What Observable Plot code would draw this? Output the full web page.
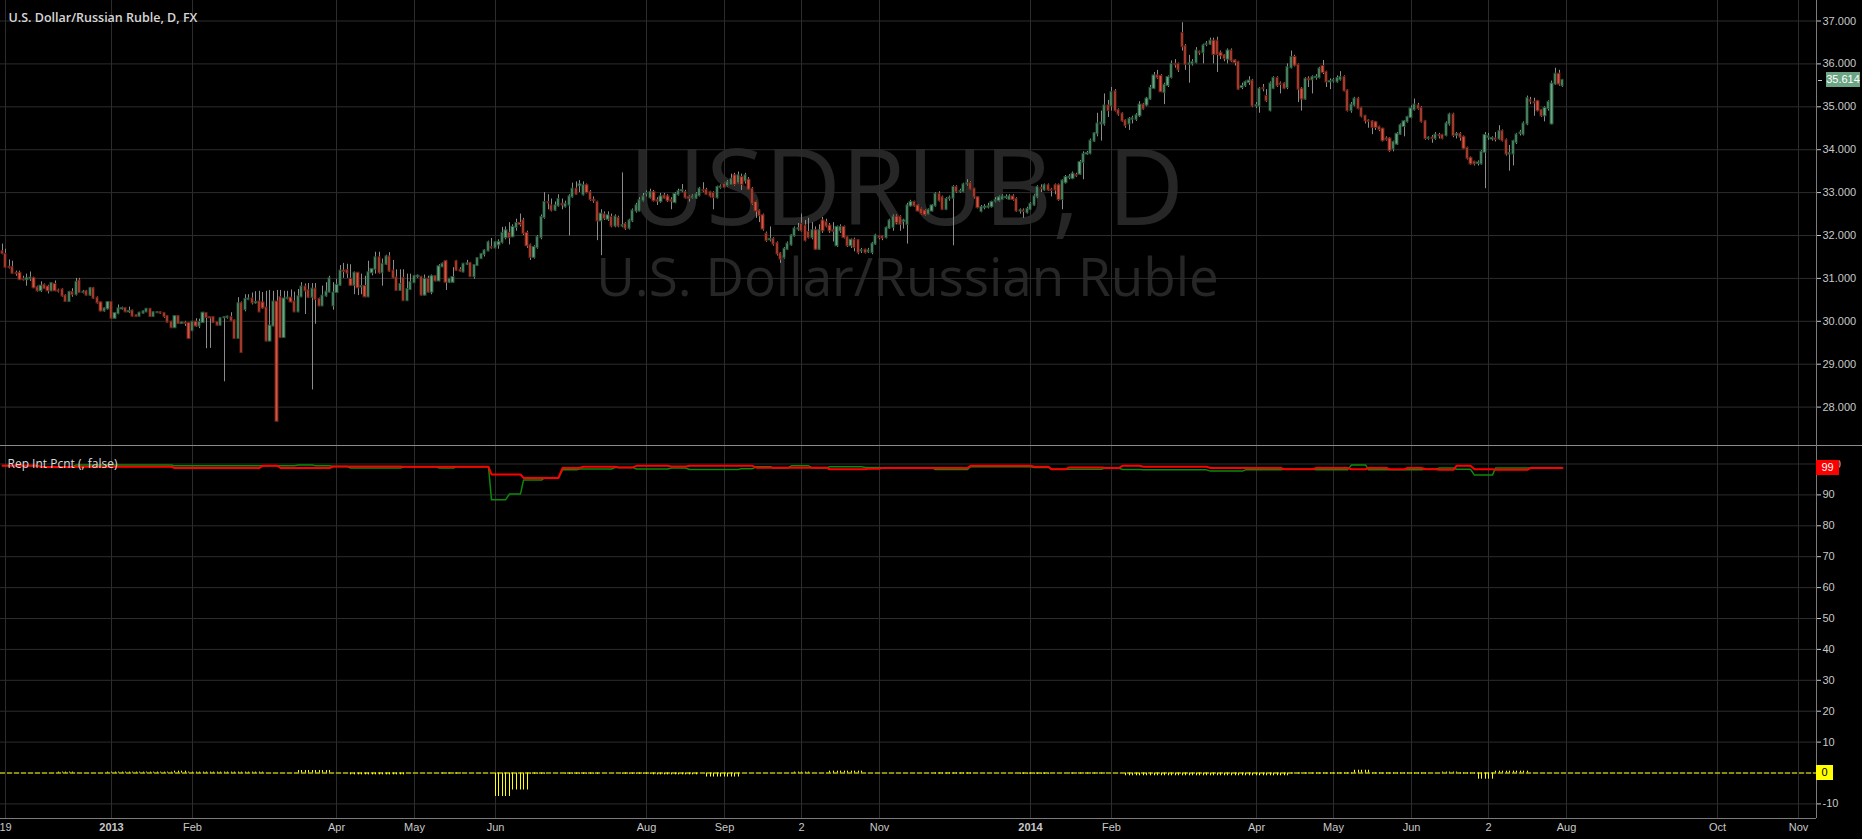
<!DOCTYPE html>
<html><head><meta charset="utf-8">
<script src="https://cdn.jsdelivr.net/npm/d3@7"></script>
<script src="https://cdn.jsdelivr.net/npm/@observablehq/plot@0.6"></script>
<style>
html,body{margin:0;padding:0;background:#000;overflow:hidden}
#wrap{position:relative;width:1862px;height:839px;background:#000;overflow:hidden}
.pane{position:absolute;left:0}
.line{position:absolute;background:#7b7b7b}
.badge{position:absolute;font:11px "Liberation Sans",Arial,sans-serif;height:15px;line-height:15px;text-align:center}
</style>
</head><body><div id="wrap"></div>
<script>
// ---------- data ----------
const titleText = "U.S. Dollar/Russian Ruble, D, FX";
const watermarkMain = "USDRUB, D";
const watermarkSub = "U.S. Dollar/Russian Ruble";
const paneLabel = "Rep Int Pcnt (, false)";
const lastPrice = 35.614;

const tickBars = [1,31,54,95,117,140,183,205,227,249,292,315,356,378,400,422,444,487,510];
const tickLabels = ["19","2013","Feb","Apr","May","Jun","Aug","Sep","2","Nov","2014","Feb","Apr","May","Jun","2","Aug","Oct","Nov"];
const yearLabels = ["2013","2014"];
const priceTicks = [28,29,30,31,32,33,34,35,36,37];
const lowTicks = [-10,0,10,20,30,40,50,60,70,80,90,100];

const open = [
31.62,31.56,31.26,31.25,31.12,31.12,30.98,30.97,30.99,31.00,
30.78,30.71,30.84,30.80,30.71,30.86,30.71,30.73,30.59,30.46,
30.67,30.62,30.94,30.67,30.69,30.61,30.76,30.54,30.43,30.24,
30.29,30.44,30.07,30.18,30.29,30.30,30.22,30.24,30.13,30.12,
30.19,30.22,30.28,30.11,30.20,30.20,30.18,30.11,29.98,29.85,
30.11,29.95,29.96,29.95,29.78,29.98,29.89,29.97,30.18,30.09,
30.09,29.97,29.91,30.08,30.09,30.09,30.01,29.60,30.41,30.27,
30.51,30.52,30.43,30.45,30.43,30.31,29.54,29.89,30.45,30.55,
29.62,30.53,30.54,30.45,30.22,30.57,30.80,30.71,30.56,30.75,
30.51,30.36,30.59,30.68,30.36,30.67,30.84,31.17,31.18,30.98,
30.84,31.12,30.80,30.81,30.57,31.13,31.21,31.48,31.13,31.33,
31.50,31.17,31.01,30.72,31.00,30.48,30.74,30.90,31.04,31.02,
30.61,30.98,30.68,31.04,30.94,31.27,31.39,30.91,30.91,31.39,
31.19,31.15,31.33,31.35,31.04,31.30,31.46,31.56,31.64,31.72,
31.71,31.78,31.84,31.95,32.05,31.97,32.19,32.28,32.34,32.05,
31.76,31.49,31.72,31.95,32.42,32.77,32.69,32.59,32.69,32.73,
32.67,32.71,32.90,33.08,33.16,32.95,33.16,33.00,32.82,32.77,
32.34,32.48,32.38,32.42,32.22,32.40,32.22,32.26,32.17,32.34,
32.57,32.57,32.81,32.97,32.88,33.00,32.81,32.79,32.92,32.90,
32.81,32.77,32.95,33.04,33.00,32.88,32.88,32.87,32.93,33.05,
33.05,33.00,32.98,32.88,33.12,33.19,33.16,33.19,33.39,33.23,
33.35,33.27,33.29,33.08,32.77,32.57,32.46,32.03,31.90,31.91,
31.81,31.57,31.49,31.68,31.78,31.99,32.15,32.26,32.22,32.07,
31.95,32.11,31.68,32.34,32.30,32.22,32.11,31.76,32.11,32.19,
31.95,31.76,31.89,31.88,31.64,31.66,31.62,31.60,31.80,31.97,
31.97,31.95,32.17,32.19,32.43,32.42,32.33,32.26,32.69,32.77,
32.69,32.61,32.57,32.50,32.57,32.69,32.96,32.88,32.61,32.86,
32.87,33.12,33.02,33.02,33.20,33.21,33.08,32.88,32.56,32.65,
32.66,32.67,32.80,32.81,32.84,32.88,32.84,32.90,32.84,32.57,
32.57,32.53,32.61,32.71,32.90,33.10,33.06,33.16,33.06,33.16,
33.16,32.84,33.23,33.35,33.33,33.40,33.43,33.70,33.90,33.91,
34.20,34.37,34.60,34.60,35.02,35.02,35.35,34.91,34.83,34.67,
34.60,34.71,34.71,34.79,35.04,35.04,35.18,35.43,35.72,35.71,
35.33,35.50,35.68,35.99,35.99,36.71,36.40,35.99,36.00,36.03,
36.27,36.26,36.45,36.46,36.53,36.53,36.25,36.19,36.11,36.30,
36.07,36.03,35.45,35.49,35.57,35.60,35.02,35.02,35.43,35.24,
34.91,35.43,35.66,35.53,35.53,35.45,35.91,36.15,35.97,35.41,
35.18,35.64,35.63,35.68,35.68,35.94,35.80,35.58,35.60,35.58,
35.63,35.68,35.37,34.91,35.04,35.18,34.96,34.78,34.67,34.65,
34.63,34.52,34.48,34.25,34.25,34.02,34.13,34.36,34.54,34.65,
34.75,34.93,35.02,34.96,34.65,34.26,34.27,34.26,34.33,34.33,
34.33,34.60,34.81,34.34,34.36,34.29,34.03,33.80,33.71,33.68,
33.67,33.94,34.29,34.25,34.25,34.25,34.42,34.21,33.90,33.90,
34.17,34.38,34.36,34.60,35.14,35.10,35.12,34.91,34.79,34.96,
34.60,35.53,35.76,35.49];

const high = [
31.80,31.68,31.43,31.40,31.17,31.17,31.05,31.10,31.15,31.03,
30.82,30.92,30.87,30.84,30.90,30.94,30.75,30.76,30.62,30.70,
30.76,31.00,31.00,30.72,30.72,30.79,30.79,30.57,30.45,30.31,
30.46,30.46,30.20,30.38,30.33,30.31,30.33,30.26,30.15,30.21,
30.24,30.30,30.30,30.22,30.22,30.22,30.20,30.13,30.00,30.13,
30.13,29.98,30.00,29.97,30.00,30.06,30.05,30.21,30.20,30.10,
30.11,29.99,30.08,30.11,30.12,30.20,30.03,30.55,30.45,30.62,
30.62,30.66,30.69,30.70,30.67,30.70,30.72,30.70,30.72,30.72,
30.70,30.70,30.73,30.68,30.74,30.90,30.87,30.88,30.88,30.88,
30.54,30.82,30.90,31.05,30.90,30.98,31.30,31.35,31.33,31.32,
31.15,31.14,31.10,31.05,31.40,31.22,31.61,31.61,31.45,31.54,
31.60,31.42,31.20,31.20,31.20,31.10,31.10,31.07,31.08,31.05,
31.08,31.05,31.08,31.06,31.32,31.36,31.42,31.00,31.25,31.42,
31.25,31.35,31.42,31.37,31.32,31.48,31.58,31.67,31.87,31.93,
31.85,31.90,32.19,32.20,32.30,32.25,32.38,32.50,32.40,32.10,
31.80,31.76,32.00,32.48,33.00,32.95,32.85,32.78,32.95,32.85,
32.80,32.95,33.22,33.25,33.28,33.25,33.20,33.05,32.90,32.80,
32.60,32.55,32.55,32.50,32.48,32.45,33.46,32.30,32.38,32.62,
32.75,32.88,32.98,33.04,33.08,33.05,32.88,32.98,32.98,32.95,
32.88,33.00,33.08,33.19,33.05,32.92,32.95,33.00,33.12,33.23,
33.10,33.03,33.02,33.15,33.18,33.22,33.28,33.43,33.45,33.48,
33.43,33.45,33.35,33.12,32.80,32.60,32.50,32.08,32.20,31.95,
31.85,31.60,31.72,31.85,32.02,32.20,32.28,32.50,32.35,32.40,
32.30,32.20,32.25,32.42,32.38,32.28,32.30,32.22,32.25,32.22,
31.98,31.92,31.94,31.90,31.70,31.68,31.70,31.84,32.03,32.00,
32.00,32.20,32.38,32.48,32.48,32.46,32.38,32.75,32.82,32.80,
32.72,32.64,32.60,32.62,32.72,33.00,33.02,32.92,32.88,32.92,
33.16,33.16,33.08,33.22,33.30,33.25,33.10,32.90,32.70,32.72,
32.75,32.80,32.88,32.92,32.95,32.95,32.95,32.95,32.88,32.62,
32.62,32.66,32.77,32.95,33.16,33.18,33.20,33.20,33.10,33.20,
33.20,33.30,33.40,33.42,33.48,33.45,33.75,33.95,33.96,34.25,
34.40,34.85,34.90,35.30,35.15,35.45,35.40,34.95,34.86,34.70,
34.75,34.78,34.84,35.12,35.08,35.22,35.50,35.80,35.85,35.75,
35.55,35.72,36.07,36.10,36.02,36.96,36.45,36.20,36.10,36.38,
36.30,36.46,36.52,36.60,36.60,36.62,36.30,36.22,36.35,36.35,
36.10,36.06,35.55,35.60,35.70,35.64,35.10,35.45,35.52,35.40,
35.58,35.70,35.70,35.58,35.56,36.00,36.30,36.20,36.00,35.45,
35.68,35.70,35.72,35.75,35.92,36.08,35.83,35.65,35.66,35.72,
35.82,35.72,35.40,35.10,35.22,35.22,34.99,34.80,34.70,34.68,
34.66,34.55,34.50,34.30,34.28,34.20,34.40,34.60,34.68,34.78,
35.02,35.18,35.08,35.00,34.68,34.30,34.33,34.40,34.38,34.36,
34.65,34.85,34.85,34.40,34.40,34.32,34.06,33.83,33.73,33.74,
33.98,34.40,34.38,34.30,34.40,34.56,34.46,34.25,34.10,34.22,
34.38,34.45,34.65,35.25,35.22,35.20,35.15,34.94,35.00,35.14,
35.60,35.90,35.85,35.64];

const low = [
31.55,31.24,31.22,31.10,31.05,30.95,30.94,30.82,30.93,30.76,
30.68,30.67,30.74,30.64,30.69,30.69,30.66,30.56,30.44,30.44,
30.56,30.59,30.65,30.64,30.59,30.58,30.51,30.40,30.22,30.21,
30.26,30.05,30.05,30.15,30.26,30.20,30.18,30.10,30.09,30.10,
30.17,30.20,30.09,30.09,30.18,30.16,30.07,29.96,29.83,29.83,
29.93,29.93,29.88,29.58,29.76,29.86,29.83,29.95,29.36,29.37,
29.95,29.89,29.89,28.59,30.05,29.99,29.58,29.58,29.25,30.22,
30.48,30.38,30.40,30.20,30.28,29.52,29.52,29.87,27.65,29.60,
29.60,30.50,30.43,30.20,30.20,30.55,30.16,30.53,28.40,29.93,
30.34,30.34,30.56,30.66,30.26,30.65,30.82,31.00,31.00,30.82,
30.62,30.60,30.62,30.55,30.55,31.06,31.10,31.10,30.82,31.30,
31.14,30.99,30.70,30.70,30.46,30.46,30.72,30.88,31.00,30.59,
30.59,30.66,30.62,30.92,30.92,31.25,30.72,30.88,30.89,31.17,
31.15,31.13,31.30,31.02,30.98,31.28,31.44,31.50,31.62,31.68,
31.69,31.68,31.80,31.90,31.78,31.95,32.10,32.20,32.00,31.70,
31.42,31.45,31.68,31.90,32.38,32.60,32.55,32.56,32.66,32.60,
32.64,31.99,32.87,32.94,33.00,32.92,32.97,32.80,32.75,31.88,
31.53,32.35,32.33,32.18,32.18,32.18,32.18,32.12,32.13,32.30,
32.52,32.55,32.78,32.90,32.85,32.78,32.70,32.75,32.85,32.77,
32.60,32.74,32.92,33.00,32.85,32.78,32.85,32.84,32.90,33.00,
32.94,32.88,32.60,32.85,33.08,33.10,33.13,33.17,33.15,33.20,
33.05,33.20,33.05,32.70,32.40,32.30,32.10,31.84,31.85,31.75,
31.52,31.35,31.45,31.65,31.75,31.96,32.10,32.08,31.85,31.92,
31.90,31.65,31.65,32.05,32.18,32.05,31.85,31.72,32.05,31.92,
31.72,31.70,31.62,31.55,31.58,31.57,31.58,31.55,31.77,31.90,
31.88,31.92,32.14,32.10,32.25,32.10,32.15,31.80,32.66,32.66,
32.55,32.48,32.45,32.48,32.55,32.66,32.78,32.58,32.58,32.80,
31.76,32.98,32.98,33.00,33.15,33.05,32.85,32.62,32.53,32.60,
32.62,32.64,32.76,32.78,32.82,32.84,32.82,32.80,32.54,32.50,
32.40,32.50,32.58,32.68,32.86,33.00,33.03,33.03,32.90,32.95,
32.80,32.60,33.20,33.30,33.30,33.35,33.40,33.30,33.87,33.88,
34.17,34.30,34.20,34.55,34.75,34.90,34.88,34.78,34.64,34.50,
34.45,34.60,34.66,34.75,34.92,35.00,35.15,35.40,35.64,35.33,
35.05,35.45,35.65,35.90,35.80,36.30,35.85,35.55,35.95,36.00,
36.20,36.00,36.40,36.43,36.00,35.80,36.10,36.05,36.00,36.03,
35.95,35.38,35.40,35.45,35.50,34.98,34.96,34.85,35.35,35.10,
34.88,35.40,35.45,35.30,35.40,35.40,35.88,35.93,35.10,34.90,
35.15,35.45,35.30,35.62,35.65,35.75,35.45,35.40,35.55,35.55,
35.60,35.35,34.88,34.85,35.00,34.93,34.74,34.60,34.50,34.35,
34.45,34.42,34.18,34.20,33.94,33.95,34.10,34.33,34.30,34.62,
34.72,34.90,34.92,34.62,34.22,34.22,34.15,34.22,34.25,34.23,
34.30,34.55,34.28,34.25,34.20,34.00,33.76,33.64,33.62,33.62,
33.64,33.09,34.22,34.20,34.18,34.22,34.18,33.85,33.50,33.62,
34.12,34.32,34.32,34.56,35.05,34.78,34.88,34.75,34.65,34.90,
34.58,35.50,35.48,35.45];

const close = [
31.58,31.26,31.25,31.12,31.11,30.97,30.97,30.99,31.01,30.78,
30.71,30.82,30.76,30.71,30.88,30.71,30.70,30.59,30.46,30.67,
30.62,30.91,30.67,30.68,30.61,30.76,30.54,30.43,30.24,30.29,
30.44,30.07,30.18,30.29,30.30,30.22,30.23,30.12,30.11,30.19,
30.22,30.28,30.11,30.20,30.20,30.19,30.11,29.98,29.85,30.11,
29.95,29.96,29.95,29.60,29.98,29.89,29.97,30.19,30.09,30.08,
29.97,29.91,30.06,30.09,30.10,30.01,29.60,30.41,29.27,30.51,
30.52,30.43,30.44,30.22,30.31,29.54,29.89,30.45,27.67,29.62,
30.52,30.54,30.45,30.22,30.57,30.80,30.71,30.56,30.75,30.51,
30.36,30.59,30.68,30.99,30.66,30.84,31.17,31.16,31.12,30.84,
31.12,30.78,30.81,30.57,31.13,31.21,31.48,31.13,31.33,31.50,
31.17,31.01,30.72,30.86,30.48,30.74,30.90,31.04,31.05,30.61,
30.98,30.68,31.04,30.94,31.27,31.33,30.91,30.98,31.02,31.19,
31.17,31.33,31.34,31.04,31.30,31.46,31.56,31.64,31.83,31.71,
31.83,31.84,32.05,32.11,31.95,32.19,32.28,32.26,32.05,31.76,
31.49,31.72,31.95,32.42,32.77,32.76,32.59,32.69,32.84,32.71,
32.73,32.90,33.08,32.96,33.18,33.16,33.00,32.84,32.81,32.34,
32.50,32.40,32.46,32.22,32.43,32.22,32.23,32.17,32.34,32.57,
32.69,32.81,32.90,32.98,33.00,32.81,32.80,32.90,32.87,32.81,
32.80,32.96,33.02,33.05,32.88,32.87,32.90,32.95,33.08,33.04,
32.96,32.92,32.88,33.12,33.13,33.12,33.23,33.31,33.19,33.39,
33.19,33.39,33.08,32.74,32.57,32.46,32.15,31.88,31.91,31.80,
31.57,31.45,31.68,31.80,31.99,32.15,32.16,32.11,31.88,31.95,
32.11,31.68,32.11,32.11,32.22,32.11,32.10,32.19,32.19,31.95,
31.76,31.89,31.72,31.60,31.65,31.60,31.64,31.80,31.99,31.95,
31.94,32.17,32.34,32.43,32.30,32.26,32.34,32.69,32.77,32.69,
32.57,32.51,32.48,32.59,32.69,32.96,32.81,32.61,32.84,32.87,
33.12,33.02,33.03,33.18,33.21,33.08,32.90,32.65,32.65,32.66,
32.67,32.77,32.81,32.88,32.90,32.89,32.90,32.84,32.57,32.58,
32.56,32.61,32.73,32.90,33.12,33.09,33.16,33.06,33.05,33.06,
32.84,33.27,33.35,33.36,33.43,33.39,33.70,33.89,33.91,34.20,
34.37,34.60,34.62,35.02,34.91,35.33,34.91,34.83,34.67,34.56,
34.71,34.72,34.79,35.04,34.95,35.18,35.43,35.72,35.68,35.35,
35.50,35.68,35.99,35.98,35.86,36.40,35.99,36.00,36.03,36.30,
36.26,36.42,36.46,36.53,36.22,36.22,36.19,36.12,36.30,36.07,
36.03,35.41,35.47,35.57,35.60,35.02,35.03,35.41,35.42,35.14,
35.53,35.66,35.49,35.52,35.43,35.91,36.15,35.97,35.41,35.18,
35.64,35.63,35.68,35.69,35.88,35.80,35.58,35.59,35.61,35.66,
35.68,35.37,34.91,35.04,35.18,34.96,34.78,34.67,34.66,34.52,
34.52,34.47,34.21,34.24,33.98,34.17,34.36,34.56,34.65,34.75,
34.95,35.04,34.96,34.65,34.26,34.27,34.26,34.34,34.32,34.26,
34.60,34.81,34.33,34.35,34.29,34.03,33.80,33.67,33.67,33.69,
33.94,34.33,34.30,34.26,34.24,34.42,34.21,33.90,33.91,34.19,
34.34,34.39,34.60,35.19,35.13,35.09,34.91,34.79,34.96,35.10,
35.53,35.76,35.53,35.614];

// Rep Int Pcnt: green and red step lines (bar ranges and level)
const greenStart = [0,11,21,49,84,89,94,99,114,124,129,139,144,148,154,159,164,174,180,190,195,210,214,219,224,230,235,245,250,265,275,293,298,313,318,324,343,353,364,373,383,388,404,408,413,418,424];
const greenEnd   = [10,20,48,83,88,93,98,113,123,128,138,143,147,153,158,163,173,179,189,194,209,213,218,223,229,234,244,249,264,274,292,297,312,317,323,342,352,363,372,382,387,403,407,412,417,423,443];
const greenVal   = [99.5,99.1,99.7,99.4,99.7,99.4,99.2,98.7,99.1,98.7,99.1,88.4,90.3,94.8,95.5,98.1,98.4,98.9,98.4,98.7,98.2,98.5,99.1,98.7,99.4,98.7,99.1,98.9,98.7,98.2,99.1,98.9,98.3,98.7,98.2,98.1,97.7,98.1,98.3,98.1,99.7,98.1,98.3,98.7,98.3,96.4,98.7];
const redStart = [0,11,21,49,74,79,94,114,139,148,159,165,175,180,190,195,214,235,246,250,275,293,298,303,313,318,324,343,364,373,383,388,394,399,404,408,413,418,424,434];
const redEnd   = [10,20,48,73,78,93,113,138,147,158,164,174,179,189,194,213,234,245,249,274,292,297,302,312,317,323,342,363,372,382,387,393,398,403,407,412,417,423,433,443];
const redVal   = [99.4,99.0,99.1,98.7,99.4,98.7,99.2,99.1,96.6,95.5,98.7,99.1,98.9,99.4,99.2,99.4,98.8,98.3,98.5,98.7,99.4,99.1,98.3,98.9,98.7,99.4,99.1,98.7,98.3,98.7,98.3,98.7,98.3,98.7,98.3,98.1,99.4,98.3,98.1,98.7];

// yellow histogram, one value per bar
const yellow = [
0,0,0,0,0,0,0,0,0,0,0,0,0,0,0,0,0.3,0.3,0.3,0.3,
0.3,0,0,0,0,0,0,0,0,0,0.3,0.3,0.3,0.3,0.3,0.3,0.3,0.3,0.3,0.3,
0.3,0.3,0.3,0.3,0.3,0.3,0.3,0.3,0.3,0.6,0.6,0.6,0.6,0.3,0.3,0.3,0.3,0.3,0.3,0.3,
0.3,0.3,0.3,0.3,0.3,0.3,0.3,0.3,0.3,0.3,0.3,0.3,0.3,0.3,0.3,0,0,0,0,0,
0,0,0,0,0.8,0.8,0.8,0.8,0.8,0.8,0.8,0.8,0.8,0.8,0,0,0,0,0,-0.6,
-0.6,-0.6,-0.6,-0.6,-0.6,-0.6,-0.6,-0.6,-0.6,-0.6,-0.6,-0.6,-0.6,-0.6,-0.6,0,0,0,0,0,
0,0,0,0,0,-0.3,-0.3,-0.3,-0.3,-0.3,-0.3,0,0,0,0,0,0,0,0,0,
-7.6,-7.6,-7.6,-7.6,-7.6,-5.5,-5.5,-5.5,-5.5,-5.5,-0.4,-0.4,-0.4,-0.4,-0.4,0,0,0,0,0,
-0.4,-0.4,-0.4,-0.4,-0.4,-0.4,-0.4,-0.4,-0.4,-0.4,0,0,0,0,0,0,-0.4,-0.4,-0.4,-0.4,
-0.4,-0.4,-0.4,-0.4,-0.4,-0.6,-0.6,-0.6,-0.6,-0.6,-0.6,-0.6,-0.6,-0.6,-0.6,-0.6,-0.6,-0.6,0,0,
-1.3,-1.3,-1.3,-1.3,-1.3,-1.3,-1.3,-1.3,-1.3,-1.3,0,0,0,0,0,0,0,0,0,0,
0,0,0,0,0,0.3,0.3,0.3,0.3,0.3,0,0,0,0,0,0.6,0.6,0.6,0.6,0.6,
0.6,0.6,0.6,0.6,0.6,0,0,0,0,0,0,0,0,0,0,0,0,0,0,0,
0,0,0,0,0,-0.3,-0.3,-0.3,-0.3,-0.3,-0.3,-0.3,-0.3,-0.3,-0.3,-0.3,0,0,0,0,
0,0,0,0,0,0,0,0,0,-0.4,-0.4,-0.4,-0.4,-0.4,-0.4,-0.4,-0.4,-0.4,0,0,
0,0,0,-0.3,-0.3,-0.3,-0.3,-0.3,-0.3,-0.3,-0.3,-0.3,-0.3,-0.3,0,0,0,0,0,-0.9,
-0.9,-0.9,-0.9,-0.9,-0.9,-0.9,-0.9,-0.9,-0.9,-0.9,-0.9,-0.9,-0.9,-0.9,-0.9,-0.9,-0.9,-0.9,-0.9,-0.9,
-0.9,-0.9,-0.9,-0.9,-0.9,-0.9,-0.9,-0.9,-0.9,-0.9,-0.9,-0.9,-0.9,-0.9,-0.9,-0.9,-0.9,-0.9,-0.9,-0.9,
-0.9,-0.9,-0.9,-0.9,-0.9,-0.9,-0.3,-0.3,-0.3,-0.3,-0.3,-0.3,-0.3,-0.3,-0.3,-0.3,-0.3,-0.3,-0.3,-0.3,
-0.3,-0.3,-0.3,-0.3,0.9,0.9,0.9,0.9,0.9,-0.3,-0.3,-0.3,-0.3,-0.3,-0.3,-0.3,-0.3,-0.3,-0.3,-0.3,
-0.3,-0.3,-0.3,-0.3,-0.3,0,0,0,0,0.3,0.3,0.3,0.3,0.3,-0.3,-0.3,-0.3,-0.3,-0.3,-2.0,
-2.0,-2.0,-2.0,-2.0,0.6,0.6,0.6,0.6,0.6,0.6,0.6,0.6,0.6,0.6,0,0,0,0,0,0,
0,0,0,0];

// ---------- layout ----------
const W = 1862, MR = 46, TOP_H = 445, LOW_H = 393;
const xDomain = [-0.51, 515.1];
const GRID = "#2c2c2c";
const AXIS_TXT = "#c8c8c8";
const baseStyle = {background: "transparent", color: AXIS_TXT, fontSize: "11px",
  fontFamily: "'Liberation Sans', Arial, sans-serif", overflow: "visible"};

const candles = close.map((c, i) => ({i, o: open[i], h: high[i], l: low[i], c}));
const isUp = d => d.c >= d.o;

const topPlot = Plot.plot({
  width: W, height: TOP_H, marginTop: 0, marginBottom: 0, marginLeft: 0, marginRight: MR,
  style: baseStyle,
  x: {domain: xDomain, axis: null, round: true},
  y: {domain: [27.105, 37.478], axis: "right", ticks: priceTicks, tickFormat: d => d.toFixed(3),
      tickSize: 4, tickPadding: 2, label: null},
  marks: [
    Plot.text([watermarkMain], {frameAnchor: "top-left", dx: 906, dy: 224, text: d => d,
      textAnchor: "middle", lineAnchor: "bottom", fontSize: 106, fontFamily: "Open Sans", fill: "#262626"}),
    Plot.text([watermarkSub], {frameAnchor: "top-left", dx: 907, dy: 295, text: d => d,
      textAnchor: "middle", lineAnchor: "bottom", fontSize: 53, fontFamily: "Open Sans", fill: "#262626"}),
    Plot.ruleX(tickBars, {x: d => d, stroke: GRID}),
    Plot.ruleY(priceTicks, {y: d => d, stroke: GRID}),
    Plot.ruleX(candles, {x: "i", y1: "l", y2: "h", stroke: "#8c8c8c"}),
    Plot.rect(candles, {filter: isUp, x1: d => d.i - 0.32, x2: d => d.i + 0.32, y1: "o", y2: "c",
      insetTop: -0.5, insetBottom: -0.5, fill: "#6ba583", stroke: "#225437", strokeWidth: 1}),
    Plot.rect(candles, {filter: d => !isUp(d), x1: d => d.i - 0.32, x2: d => d.i + 0.32, y1: "o", y2: "c",
      insetTop: -0.5, insetBottom: -0.5, fill: "#d75442", stroke: "#6b2015", strokeWidth: 1}),
    Plot.text([titleText], {frameAnchor: "top-left", dx: 8, dy: 21, text: d => d, textAnchor: "start",
      lineAnchor: "bottom", fontSize: 12.5, fontWeight: 600, fontFamily: "Open Sans", fill: "#d6d6d6"})
  ]
});

function stepPoints(starts, ends, vals) {
  const pts = [];
  starts.forEach((s, k) => { pts.push({x: s, y: vals[k]}); pts.push({x: ends[k], y: vals[k]}); });
  return pts;
}
const greenPts = stepPoints(greenStart, greenEnd, greenVal);
const redPts = stepPoints(redStart, redEnd, redVal);
const histo = yellow.map((v, i) => ({i, v})).filter(d => d.v !== 0);
const ticks = tickBars.map((b, k) => ({b, label: tickLabels[k]}));

const lowPlot = Plot.plot({
  width: W, height: LOW_H, marginTop: 0, marginBottom: 21, marginLeft: 0, marginRight: MR,
  style: baseStyle,
  x: {domain: xDomain, axis: null, round: true},
  y: {domain: [-14.72, 105.66], axis: "right", ticks: lowTicks, tickFormat: d => String(d),
      tickSize: 4, tickPadding: 2, label: null},
  marks: [
    Plot.ruleX(tickBars, {x: d => d, stroke: GRID}),
    Plot.ruleY(lowTicks, {y: d => d, stroke: GRID}),
    Plot.ruleY([0], {y: d => d, stroke: "#ffff00", strokeDasharray: "5,2"}),
    Plot.ruleX(histo, {x: "i", y1: 0, y2: "v", stroke: "#ffff00"}),
    Plot.line(greenPts, {x: "x", y: "y", stroke: "#0b8a0b", strokeWidth: 1.5}),
    Plot.line(redPts, {x: "x", y: "y", stroke: "#ff0000", strokeWidth: 2}),
    Plot.text(ticks, {filter: d => !yearLabels.includes(d.label), x: "b", frameAnchor: "bottom", dy: 9,
      lineAnchor: "middle", text: "label", fill: AXIS_TXT, fontSize: 11}),
    Plot.text(ticks, {filter: d => yearLabels.includes(d.label), x: "b", frameAnchor: "bottom", dy: 9,
      lineAnchor: "middle", text: "label", fill: AXIS_TXT, fontSize: 11, fontWeight: "bold"}),
    Plot.text([paneLabel], {frameAnchor: "top-left", dx: 7, dy: 21, text: d => d, textAnchor: "start",
      lineAnchor: "bottom", fontSize: 12, fontFamily: "Open Sans", fill: "#dcdcdc"})
  ]
});

// ---------- assemble ----------
const wrap = document.getElementById("wrap");
function add(el, css) { Object.assign(el.style, css); wrap.appendChild(el); return el; }
const tp = document.createElement("div"); tp.className = "pane"; tp.style.top = "0px"; tp.appendChild(topPlot); wrap.appendChild(tp);
const lp = document.createElement("div"); lp.className = "pane"; lp.style.top = "446px"; lp.appendChild(lowPlot); wrap.appendChild(lp);

function line(css) { const d = document.createElement("div"); d.className = "line"; return add(d, css); }
line({left: "0px", top: "445px", width: W + "px", height: "1px", background: "#8a8a8a"});
line({left: "1816px", top: "0px", width: "1px", height: "818px"});
line({left: "0px", top: "818px", width: "1816px", height: "1px"});

function badge(text, yPx, left, width, bg, fg) {
  const b = document.createElement("div"); b.className = "badge"; b.textContent = text;
  return add(b, {left: left + "px", top: (yPx - 7.5) + "px", width: width + "px", background: bg, color: fg});
}
const yTop = topPlot.scale("y"), yLow = lowPlot.scale("y");
const yLast = yTop.apply(lastPrice);
line({left: "1818px", top: Math.round(yLast) + "px", width: "4px", height: "1px", background: "#c8c8c8"});
badge(lastPrice.toFixed(3), yLast, 1826, 34, "#6ba583", "#ffffff");
const lastRed = redVal[redVal.length - 1];
badge(String(Math.round(lastRed)), 446 + yLow.apply(lastRed), 1816, 23, "#ff0000", "#ffffff");
badge(String(yellow[yellow.length - 1]), 446 + yLow.apply(yellow[yellow.length - 1]), 1816, 17, "#ffff00", "#000000");
</script>
</body></html>
